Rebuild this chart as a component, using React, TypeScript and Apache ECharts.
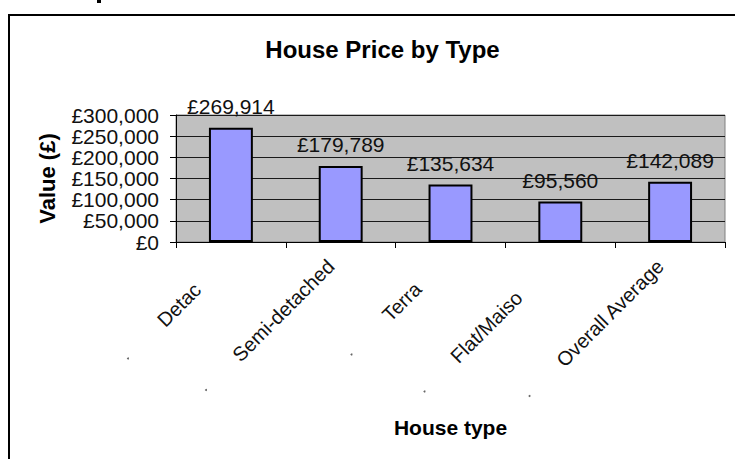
import React, { useEffect, useRef } from "react";
import * as echarts from "echarts";

const categories = ["Detached", "Semi-detached", "Terraced", "Flat/Maisonette", "Overall Average"];
const shownLabels = ["Detac", "Semi-detached", "Terra", "Flat/Maiso", "Overall Average"];
const values = [269914, 179789, 135634, 95560, 142089];
const yTicks = { min: 0, max: 300000, interval: 50000 };

const FONT = '"Liberation Sans", Arial, Helvetica, sans-serif';
const fmt = (v: number) => "£" + v.toLocaleString("en-GB");

function measure(text: string, size: number): number {
  const c = document.createElement("canvas").getContext("2d");
  if (!c) return 0;
  c.font = `${size}px ${FONT}`;
  return c.measureText(text).width;
}

export default function App() {
  const ref = useRef<HTMLDivElement>(null);
  useEffect(() => {
    if (!ref.current) return;
    const chart = echarts.init(ref.current, undefined, { renderer: "svg" });
    const labelSize = 20;
    const extraPad = 14;
    const axisData = categories.map((c, i) => {
      const hidden = measure(c, labelSize) - measure(shownLabels[i], labelSize);
      return { value: c, textStyle: { padding: [0, Math.max(0, hidden) + extraPad, 0, 0] } };
    });
    chart.setOption({
      animation: false,
      backgroundColor: "#ffffff",
      title: {
        text: "House Price by Type",
        left: 377.5,
        top: 32,
        textAlign: "center",
        textStyle: { fontFamily: FONT, fontSize: 24, fontWeight: "bold", color: "#000" },
      },
      grid: {
        left: 176,
        top: 115,
        right: 10,
        bottom: 217,
        show: true,
        backgroundColor: "#C0C0C0",
        borderColor: "#808080",
        borderWidth: 1,
      },
      xAxis: {
        type: "category",
        data: axisData,
        name: "House type",
        nameLocation: "middle",
        nameGap: 175,
        nameTextStyle: { fontFamily: FONT, fontSize: 21, fontWeight: "bold", color: "#000" },
        axisLine: { lineStyle: { color: "#000", width: 1 } },
        axisTick: { show: true, length: 6, lineStyle: { color: "#000" } },
        axisLabel: {
          interval: 0,
          rotate: 45,
          margin: 11,
          fontFamily: FONT,
          fontSize: labelSize,
          color: "#111",
          formatter: (_v: string, i: number) => shownLabels[i],
        },
      },
      yAxis: {
        type: "value",
        min: yTicks.min,
        max: yTicks.max,
        interval: yTicks.interval,
        name: "Value (£)",
        nameLocation: "middle",
        nameGap: 118,
        nameRotate: 90,
        nameTextStyle: { fontFamily: FONT, fontSize: 22, fontWeight: "bold", color: "#000" },
        axisLine: { show: true, lineStyle: { color: "#000", width: 1 } },
        axisTick: { show: true, length: 6, lineStyle: { color: "#000" } },
        axisLabel: {
          margin: 17,
          fontFamily: FONT,
          fontSize: 21,
          color: "#111",
          formatter: (v: number) => fmt(v),
        },
        splitLine: { show: true, lineStyle: { color: "#1a1a1a", width: 1 } },
      },
      series: [
        {
          type: "bar",
          data: values,
          barWidth: "40%",
          itemStyle: { color: "#9999FF", borderColor: "#000", borderWidth: 2 },
          label: {
            show: true,
            position: "top",
            distance: 11,
            fontFamily: FONT,
            fontSize: 21,
            color: "#111",
            formatter: (p: any) => fmt(p.value),
          },
        },
      ],
      graphic: [
        {
          type: "rect",
          shape: { x: 9, y: 15, width: 760, height: 480 },
          style: { fill: "none", stroke: "#000", lineWidth: 2 },
          silent: true,
          z: -1,
        },
        { type: "rect", shape: { x: 97, y: 0, width: 4, height: 3 }, style: { fill: "#000" }, silent: true },
        { type: "circle", shape: { cx: 128, cy: 358.5, r: 1 }, style: { fill: "#666" }, silent: true },
        { type: "circle", shape: { cx: 206, cy: 390, r: 1 }, style: { fill: "#666" }, silent: true },
        { type: "circle", shape: { cx: 351.5, cy: 354.5, r: 1 }, style: { fill: "#666" }, silent: true },
        { type: "circle", shape: { cx: 424.5, cy: 391.5, r: 1 }, style: { fill: "#666" }, silent: true },
        { type: "circle", shape: { cx: 529.5, cy: 396, r: 1 }, style: { fill: "#666" }, silent: true },
      ],
    });
    return () => chart.dispose();
  }, []);
  return (
    <div
      ref={ref}
      style={{ position: "fixed", left: 0, top: 0, width: 735, height: 459, background: "#fff" }}
    />
  );
}
